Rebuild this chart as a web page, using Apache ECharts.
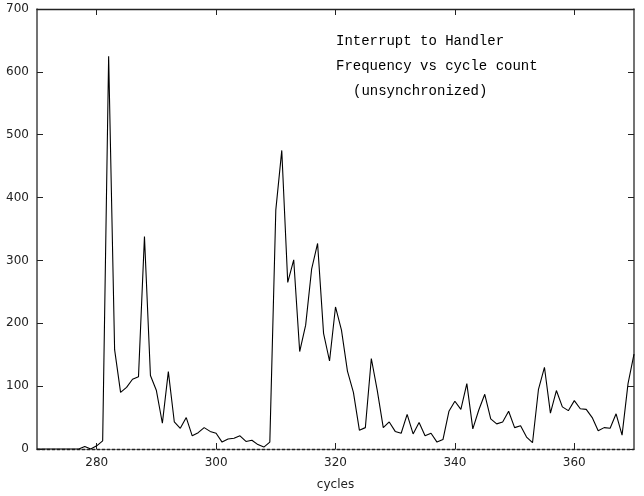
<!DOCTYPE html>
<html>
<head>
<meta charset="utf-8">
<script src="https://cdn.jsdelivr.net/npm/echarts@6/dist/echarts.min.js"></script>
<style>html,body{margin:0;padding:0;background:#fff;}#c{width:644px;height:496px;}</style>
</head>
<body>
<div id="c"></div>
<script>
const cycles = [270,271,272,273,274,275,276,277,278,279,
280,281,282,283,284,285,286,287,288,289,
290,291,292,293,294,295,296,297,298,299,
300,301,302,303,304,305,306,307,308,309,
310,311,312,313,314,315,316,317,318,319,
320,321,322,323,324,325,326,327,328,329,
330,331,332,333,334,335,336,337,338,339,
340,341,342,343,344,345,346,347,348,349,
350,351,352,353,354,355,356,357,358,359,
360,361,362,363,364,365,366,367,368,369,370];
const frequency = [0,0,0,0,0,0,0,0,4,0,
5,13,625,158,90,98,111,115,338,117,
93,41,123,43,33,50,21,26,34,28,
25,11,16,17,21,12,14,7,3,11,
380,475,265,301,155,197,286,327,184,140,
226,189,124,90,30,34,144,93,34,43,
28,25,55,24,42,21,25,11,15,60,
76,63,104,32,62,87,48,40,43,60,
34,37,19,10,95,130,57,93,67,61,
77,64,63,50,29,34,33,56,22,104,151];
const xTicks = [280,300,320,340,360];
const yTicks = [0,100,200,300,400,500,600,700];
const titleLines = ["Interrupt to Handler","Frequency vs cycle count","(unsynchronized)"];
const xName = "cycles";

const chart = echarts.init(document.getElementById('c'), null, {renderer:'canvas'});
const lab = {fontFamily:'DejaVu Sans', fontSize:12, color:'#222'};
const tf = {fontFamily:'Liberation Mono', fontSize:14, fontWeight:'normal', color:'#000'};
chart.setOption({
  animation:false,
  backgroundColor:'#fff',
  title:[
    {text:titleLines[0], left:336, top:34, padding:0, textStyle:tf},
    {text:titleLines[1], left:336, top:59, padding:0, textStyle:tf},
    {text:titleLines[2], left:353, top:84, padding:0, textStyle:tf}
  ],
  grid:{left:37, right:10, top:9, bottom:40},
  xAxis:[
    {type:'value', min:270, max:370, position:'bottom',
     name:xName, nameLocation:'middle', nameGap:30,
     nameTextStyle:{fontFamily:'DejaVu Sans', fontSize:12, color:'#222'},
     axisLine:{show:true, onZero:false, lineStyle:{color:'#222', width:1.3, type:[3,2]}},
     axisTick:{show:true, inside:true, length:6, customValues:xTicks, lineStyle:{color:'#222'}},
     axisLabel:{show:true, margin:8, customValues:xTicks, ...lab},
     splitLine:{show:false}},
    {type:'value', min:270, max:370, position:'top',
     axisLine:{show:true, onZero:false, lineStyle:{color:'#222', width:1.3}},
     axisTick:{show:true, inside:true, length:6, customValues:xTicks, lineStyle:{color:'#222'}},
     axisLabel:{show:false}, splitLine:{show:false}}
  ],
  yAxis:[
    {type:'value', min:0, max:700, position:'left',
     axisLine:{show:true, onZero:false, lineStyle:{color:'#444', width:1.5}},
     axisTick:{show:true, inside:true, length:6, customValues:yTicks, lineStyle:{color:'#222'}},
     axisLabel:{show:true, margin:8, customValues:yTicks, ...lab},
     splitLine:{show:false}},
    {type:'value', min:0, max:700, position:'right',
     axisLine:{show:true, onZero:false, lineStyle:{color:'#444', width:1.5}},
     axisTick:{show:true, inside:true, length:6, customValues:yTicks, lineStyle:{color:'#222'}},
     axisLabel:{show:false}, splitLine:{show:false}}
  ],
  series:[{
    type:'line', xAxisIndex:0, yAxisIndex:0,
    data: cycles.map((c,i)=>[c, frequency[i]]),
    showSymbol:false, symbol:'none',
    lineStyle:{color:'#000', width:1.1},
    z:5
  }]
});
</script>
</body>
</html>
